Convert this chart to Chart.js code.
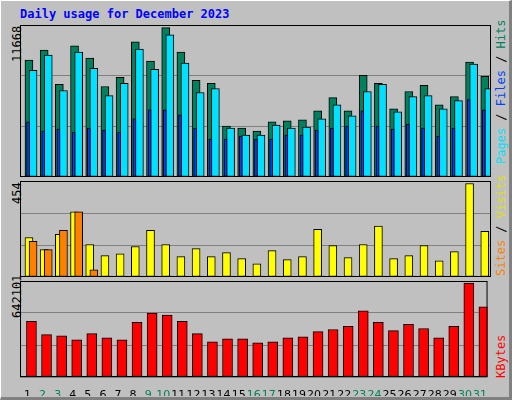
<!DOCTYPE html>
<html>
<head>
<meta charset="utf-8">
<script src="https://cdn.jsdelivr.net/npm/chart.js@4"></script>
<style>
  body { margin: 0; background: #fff; }
  #frame { position: absolute; left: 0; top: 0; width: 508px; height: 396px; background: #c0c0c0;
    border-top: 1px solid #fff; border-left: 1px solid #fff; border-right: 3px solid #808080; border-bottom: 3px solid #808080; }
  .box { position: absolute; }
  .title { position: absolute; left: 20px; top: 7px; font: bold 12px "DejaVu Sans Mono", monospace; color: #0000ff; }
  .rot { position: absolute; transform-origin: left top; transform: rotate(-90deg); white-space: nowrap;
    font: 12px "DejaVu Sans Mono", monospace; }
</style>
</head>
<body>
<div id="frame"></div>
<div class="title">Daily usage for December 2023</div>
<div class="rot" style="left:10px;top:62px;color:#000">11668</div>
<div class="rot" style="left:10px;top:204px;color:#000">454</div>
<div class="rot" style="left:10px;top:318px;color:#000">642101</div>
<div class="rot" style="left:494px;top:164px;"><span style="color:#00e0ff">Pages</span> / <span style="color:#0040ff">Files</span> / <span style="color:#00805c">Hits</span></div>
<div class="rot" style="left:494px;top:276px;"><span style="color:#ff8000">Sites</span> / <span style="color:#e0e000">Visits</span></div>
<div class="rot" style="left:494px;top:378px;color:#ff0000">KBytes</div>
<div class="box" style="left:20px;top:25px;width:471px;height:152px"><canvas id="c1"></canvas></div>
<div class="box" style="left:20px;top:181px;width:471px;height:96px"><canvas id="c2"></canvas></div>
<div class="box" style="left:20px;top:281px;width:471px;height:115px"><canvas id="c3"></canvas></div>
<script>
var days = [1,2,3,4,5,6,7,8,9,10,11,12,13,14,15,16,17,18,19,20,21,22,23,24,25,26,27,28,29,30,31];
var weekend = [2,3,9,10,16,17,23,24,30,31];
var hits = [9134,9925,7233,10242,9292,7075,7787,10559,9054,11668,9767,7550,7312,3986,3828,3590,4303,4382,4461,5174,6204,5174,7946,7312,5333,6679,7154,5649,6283,8975,7867];
var files = [8342,9530,6758,9767,8500,6362,7312,10005,8421,11113,8896,6600,6916,3828,3273,3273,4065,3828,3907,4540,5649,4778,6679,7233,5095,6283,6362,5333,5966,8817,6916];
var pages = [4303,3590,3748,3511,3828,3669,3511,4540,5253,5253,4857,3828,2957,2957,3194,2957,2957,3273,3273,3669,3828,3986,5174,3986,3748,4145,3828,3194,3828,6045,5253];
var visits = [192,133,207,316,158,104,113,148,227,158,99,138,99,118,89,64,128,84,99,232,153,94,158,247,89,104,153,79,123,454,222];
var sites = [173,133,227,316,35,5,5,5,5,5,5,5,5,5,5,5,5,5,5,5,5,5,5,5,5,5,5,5,5,5,5];
var kbytes = [381000,289300,282200,254000,296400,268100,254000,374000,437500,423400,381000,296400,239900,261100,261100,232800,239900,268100,275200,310500,324600,345700,451600,374000,317500,359900,331600,268100,345700,642101,479800];

function pts(vals, off) {
  return vals.map(function (v, i) { return { x: days[i] + off, y: v }; });
}

var framePlugin = {
  id: 'frame',
  afterDraw: function (chart) {
    var a = chart.chartArea, c = chart.ctx;
    c.save();
    c.strokeStyle = '#000';
    c.lineWidth = 1;
    c.strokeRect(a.left + 0.5, a.top + 0.5, a.right - a.left - 1, a.bottom - a.top - 1);
    c.restore();
  }
};

function makeChart(id, datasets, max, showX) {
  return new Chart(document.getElementById(id), {
    type: 'bar',
    data: { datasets: datasets },
    plugins: [framePlugin],
    options: {
      animation: false,
      responsive: true,
      maintainAspectRatio: false,
      layout: { padding: 0 },
      plugins: { legend: { display: false }, tooltip: { enabled: false } },
      scales: {
        x: {
          type: 'linear', min: 0.5, max: 31.5, offset: false,
          grid: { display: false },
          border: { display: false },
          afterBuildTicks: function (s) { s.ticks = days.map(function (d) { return { value: d }; }); },
          afterFit: function (s) { s.height = showX ? 19 : 0; },
          ticks: {
            display: showX, autoSkip: false, maxRotation: 0, padding: 4,
            font: { family: 'DejaVu Sans', size: 11 },
            color: function (ctx) { return weekend.indexOf(ctx.tick.value) >= 0 ? '#00805c' : '#000'; },
            callback: function (v) { return String(v); }
          }
        },
        y: {
          min: 0, max: max,
          afterFit: function (s) { s.width = 0; },
          border: { display: false },
          grid: { color: '#808080', drawTicks: false, lineWidth: 1 },
          ticks: { display: false, stepSize: max / 3 }
        }
      }
    }
  });
}

function ds(vals, off, color, w) {
  return { data: pts(vals, off), backgroundColor: color, borderColor: '#000', borderWidth: 1,
    barThickness: w, grouped: false, borderSkipped: false };
}

makeChart('c1', [
  ds(pages, 0.03, '#0040ff', 3),
  ds(files, 0.36, '#00e0ff', 8),
  ds(hits, 0.09, '#00805c', 8)
], Math.max.apply(null, hits) * 1.018, false);

makeChart('c2', [
  ds(sites, 0.36, '#ff8000', 8),
  ds(visits, 0.09, '#ffff00', 8)
], Math.max.apply(null, visits) * 1.027, false);

makeChart('c3', [
  ds(kbytes, 0.26, '#ff0000', 10)
], Math.max.apply(null, kbytes) * 1.022, true);
</script>
</body>
</html>
